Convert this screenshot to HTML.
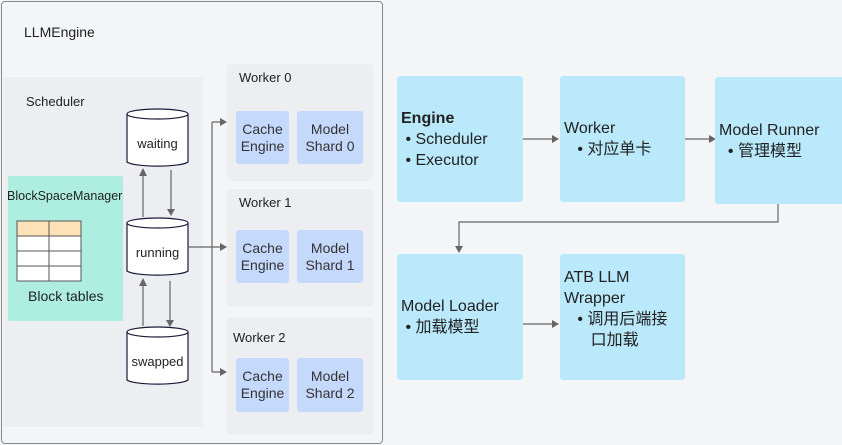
<!DOCTYPE html>
<html><head><meta charset="utf-8"><style>
*{margin:0;padding:0;box-sizing:border-box}
body{width:842px;height:445px;background:#f4f5f7;position:relative;overflow:hidden;font-family:"Liberation Sans","Noto Sans CJK SC",sans-serif;color:#222}
.a{position:absolute}
.g{background:#eceef2;border-radius:3px}
.b{background:#c5d9fc;border-radius:3px;font-size:14px;line-height:17px;text-align:center;display:flex;align-items:center;justify-content:center;color:#333}
.c{background:#b9e9fb;border-radius:3px;font-size:16px;line-height:21px;color:#222;padding-left:4px;display:flex;flex-direction:column;justify-content:center}
.t{font-size:13px}
</style></head><body>
<div class="a" style="left:1px;top:1px;width:382px;height:443px;border:1px solid #888;border-radius:4px;background:#f4f5f7"></div>
<div class="a t" style="left:24px;top:24px;font-size:14px">LLMEngine</div>
<div class="a g" style="left:3px;top:77px;width:200px;height:350px"></div>
<div class="a t" style="left:26px;top:94px">Scheduler</div>
<div class="a" style="left:8px;top:176px;width:115px;height:145px;background:#aeeee0;border-radius:2px"></div>
<div class="a" style="left:7px;top:189px;font-size:12.5px">BlockSpaceManager</div>
<svg class="a" style="left:0;top:0" width="842" height="445">
<g stroke="#555" fill="#fff" stroke-width="1">
<rect x="17" y="221" width="64" height="60" fill="#fff"/>
<rect x="17" y="221" width="64" height="15" fill="#fde2b8"/>
<line x1="49" y1="221" x2="49" y2="281"/><line x1="17" y1="251" x2="81" y2="251"/><line x1="17" y1="266" x2="81" y2="266"/>
</g>
<g stroke="#1a1a3a" stroke-width="1.2" fill="#fff">
<path d="M127 114 V162 A31 5 0 0 0 188 162 V114"/><ellipse cx="157.5" cy="114" rx="30.5" ry="5"/>
<path d="M127 223 V271 A31 5 0 0 0 188 271 V223"/><ellipse cx="157.5" cy="223" rx="30.5" ry="5"/>
<path d="M127 332 V380 A31 5 0 0 0 188 380 V332"/><ellipse cx="157.5" cy="332" rx="30.5" ry="5"/>
</g>
<g stroke="#666" stroke-width="1.2" fill="none">
<line x1="143" y1="217" x2="143" y2="176"/><line x1="171" y1="170" x2="171" y2="209"/>
<line x1="170" y1="281" x2="170" y2="320"/><line x1="143" y1="326" x2="143" y2="286"/>
<path d="M188 247 H212 M212 122 V372 M212 122 H222 M212 247 H222 M212 372 H222"/>
<path d="M522 139 H553 M679 139 H710 M778 203 V222 H459 V247 M522 324 H553"/>
</g>
<g fill="#666">
<path d="M139 176 L147 176 L143 168Z"/><path d="M167 209 L175 209 L171 216Z"/>
<path d="M166 320 L174 320 L170 327Z"/><path d="M139 286 L147 286 L143 278Z"/>
<path d="M220 118 L227 122 L220 126Z"/><path d="M220 243 L227 247 L220 251Z"/><path d="M220 368 L227 372 L220 376Z"/>
<path d="M552 135 L559 139 L552 143Z"/><path d="M709 135 L716 139 L709 143Z"/><path d="M455 246 L463 246 L459 253Z"/><path d="M552 320 L559 324 L552 328Z"/>
</g>
</svg>
<div class="a t" style="left:28px;top:288px;font-size:14px">Block tables</div>
<div class="a t" style="left:127px;top:136px;width:61px;text-align:center">waiting</div>
<div class="a t" style="left:127px;top:245px;width:61px;text-align:center">running</div>
<div class="a t" style="left:127px;top:354px;width:61px;text-align:center">swapped</div>

<div class="a g" style="left:227px;top:64px;width:146px;height:117px"></div>
<div class="a t" style="left:239px;top:70px">Worker 0</div>
<div class="a b" style="left:236px;top:111px;width:53px;height:53px">Cache<br>Engine</div>
<div class="a b" style="left:297px;top:111px;width:66px;height:53px">Model<br>Shard 0</div>
<div class="a g" style="left:227px;top:189px;width:146px;height:117px"></div>
<div class="a t" style="left:239px;top:195px">Worker 1</div>
<div class="a b" style="left:236px;top:230px;width:53px;height:53px">Cache<br>Engine</div>
<div class="a b" style="left:297px;top:230px;width:66px;height:53px">Model<br>Shard 1</div>
<div class="a g" style="left:227px;top:318px;width:146px;height:116px"></div>
<div class="a t" style="left:233px;top:330px">Worker 2</div>
<div class="a b" style="left:236px;top:358px;width:53px;height:54px">Cache<br>Engine</div>
<div class="a b" style="left:297px;top:358px;width:66px;height:54px">Model<br>Shard 2</div>

<div class="a c" style="left:397px;top:76px;width:126px;height:126px"><b>Engine</b><span>&nbsp;• Scheduler</span><span>&nbsp;• Executor</span></div>
<div class="a c" style="left:560px;top:76px;width:125px;height:126px"><span>Worker</span><span>&nbsp;&nbsp;&nbsp;• 对应单卡</span></div>
<div class="a c" style="left:715px;top:77px;width:130px;height:127px"><span>Model Runner</span><span>&nbsp;&nbsp;• 管理模型</span></div>
<div class="a c" style="left:397px;top:254px;width:126px;height:126px"><span>Model Loader</span><span>&nbsp;• 加载模型</span></div>
<div class="a c" style="left:560px;top:254px;width:125px;height:126px;justify-content:flex-start;padding-top:13px"><span>ATB LLM</span><span>Wrapper</span><span>&nbsp;&nbsp;&nbsp;• 调用后端接</span><span>&nbsp;&nbsp;&nbsp;&nbsp;&nbsp;&nbsp;口加载</span></div>
</body></html>
